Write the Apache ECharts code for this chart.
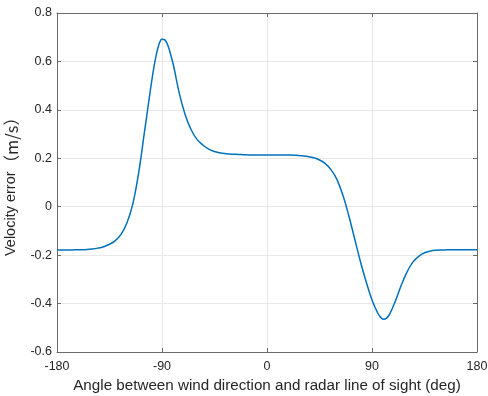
<!DOCTYPE html>
<html>
<head>
<meta charset="utf-8">
<script src="https://cdn.jsdelivr.net/npm/echarts@6/dist/echarts.min.js"></script>
<style>
  html, body { margin: 0; padding: 0; background: #fff; }
  #chart { width: 488px; height: 396px; }
</style>
</head>
<body>
<div id="chart"></div>
<script>
// angle (deg) vs velocity error (m/s) (finer near the peak and trough)
const angles = [-180, -175, -170, -165, -160, -155, -150, -145, -140, -135, -130, -125, -120, -115, -110, -105, -100, -97.5, -95, -92.5, -90, -87.5, -85, -82.5, -80, -75, -70, -65, -60, -55, -50, -45, -40, -35, -30, -25, -20, -15, -10, -5, 0, 5, 10, 15, 20, 25, 30, 35, 40, 45, 50, 55, 60, 65, 70, 75, 80, 85, 90, 95, 97.5, 100, 102.5, 105, 110, 115, 120, 125, 130, 135, 140, 145, 150, 155, 160, 165, 170, 175, 180]
const errors = [-0.179, -0.179, -0.179, -0.178, -0.178, -0.177, -0.175, -0.171, -0.165, -0.155, -0.14, -0.113, -0.066, 0.012, 0.14, 0.31, 0.48, 0.56, 0.625, 0.672, 0.692, 0.689, 0.667, 0.627, 0.58, 0.465, 0.378, 0.318, 0.278, 0.255, 0.238, 0.228, 0.222, 0.219, 0.217, 0.216, 0.215, 0.214, 0.214, 0.214, 0.214, 0.214, 0.214, 0.214, 0.214, 0.2125, 0.210, 0.207, 0.202, 0.193, 0.178, 0.152, 0.112, 0.048, -0.035, -0.13, -0.225, -0.31, -0.385, -0.44, -0.457, -0.465, -0.46, -0.445, -0.39, -0.325, -0.27, -0.229, -0.205, -0.19, -0.183, -0.18, -0.179, -0.178, -0.178, -0.178, -0.178, -0.178, -0.178]

let myChart = echarts.init(document.getElementById('chart'))
let lineData = angles.map((a, i) => [a, errors[i]])
let textColor = '#262626'
let boxColor = '#6b6b6b'
let font = 'Liberation Sans, Arial, sans-serif'

let option = {
    animation: false,
    grid: { left: 57, right: 11, top: 13, bottom: 44, outerBoundsMode: 'none' },
    xAxis: [{
        type: 'value', min: -180, max: 180, interval: 90,
        name: 'Angle between wind direction and radar line of sight (deg)',
        nameLocation: 'middle', nameGap: 24,
        nameTextStyle: { color: textColor, fontSize: 15.2, fontFamily: font },
        axisLine: { show: true, onZero: false, lineStyle: { color: boxColor, width: 1 } },
        axisTick: { show: true, inside: true, length: 4, lineStyle: { color: boxColor } },
        axisLabel: { color: textColor, fontSize: 12.5, fontFamily: font, margin: 8 },
        splitLine: { show: true, lineStyle: { color: '#e8e8e8', width: 1 } }
    }, {
        type: 'value', min: -180, max: 180, interval: 90, position: 'top',
        axisLine: { show: true, onZero: false, lineStyle: { color: boxColor, width: 1 } },
        axisTick: { show: true, inside: true, length: 4, lineStyle: { color: boxColor } },
        axisLabel: { show: false },
        splitLine: { show: false }
    }],
    yAxis: [{
        type: 'value', min: -0.6, max: 0.8, interval: 0.2,
        name: '{a|Velocity error}{b|（m/s）}',
        nameLocation: 'middle', nameGap: 31,
        nameTextStyle: {
            color: textColor, fontSize: 14.5, fontFamily: font,
            rich: {
                a: { color: textColor, fontSize: 14.5, fontFamily: font },
                b: { color: textColor, fontSize: 16.5, fontFamily: 'Noto Sans CJK SC, sans-serif' }
            }
        },
        axisLine: { show: true, onZero: false, lineStyle: { color: boxColor, width: 1 } },
        axisTick: { show: true, inside: true, length: 4, lineStyle: { color: boxColor } },
        axisLabel: {
            color: textColor, fontSize: 12.5, fontFamily: font, margin: 5,
            formatter: v => Math.abs(v) < 1e-9 ? '0' : v.toFixed(1)
        },
        splitLine: { show: true, lineStyle: { color: '#e8e8e8', width: 1 } }
    }, {
        type: 'value', min: -0.6, max: 0.8, interval: 0.2, position: 'right',
        axisLine: { show: true, onZero: false, lineStyle: { color: boxColor, width: 1 } },
        axisTick: { show: true, inside: true, length: 4, lineStyle: { color: boxColor } },
        axisLabel: { show: false },
        splitLine: { show: false }
    }],
    series: [{
        type: 'line',
        data: lineData,
        smooth: 0.4,
        showSymbol: false,
        lineStyle: { color: '#0072BD', width: 1.5 }
    }]
}
myChart.setOption(option)
window.addEventListener('resize', function() {
    myChart.resize()
})
</script>
</body>
</html>
